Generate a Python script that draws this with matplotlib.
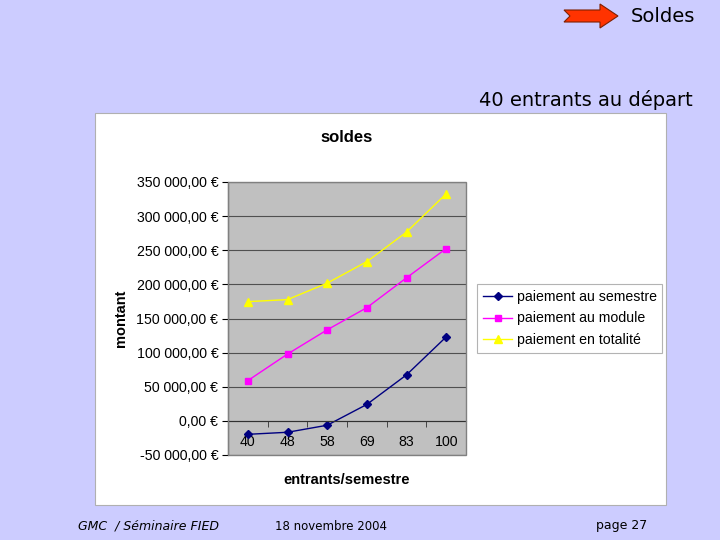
import numpy as np
import matplotlib
matplotlib.use("Agg")
import matplotlib.pyplot as plt
from matplotlib.patches import Rectangle, Polygon

# data
categories = ["40", "48", "58", "69", "83", "100"]
semestre = [-19700, -16700, -6400, 24100, 67400, 123000]
module = [59000, 97900, 133400, 165900, 209600, 252500]
totalite = [174700, 177700, 201800, 233300, 276600, 332700]
y_ticks = [-50000, 0, 50000, 100000, 150000, 200000, 250000, 300000, 350000]

W, H = 720, 540
bg = "#CCCCFF"
arial = ["Liberation Sans", "DejaVu Sans"]

fig = plt.figure(figsize=(7.2, 5.4), dpi=100, facecolor=bg)


def fx(px):
    return px / W


def fy(py):
    return 1 - py / H


# white chart area
fig.patches.append(Rectangle((fx(95), fy(505)), fx(666) - fx(95), fy(113) - fy(505),
                             transform=fig.transFigure, facecolor="white",
                             edgecolor="#B0B0B0", lw=0.8, zorder=-5))

# red arrow + slide title
arrow = [(564, 10), (600, 10), (600, 4), (618, 16), (600, 28), (600, 22), (564, 22), (570, 16)]
fig.patches.append(Polygon([(fx(a), fy(b)) for a, b in arrow], closed=True,
                           transform=fig.transFigure, facecolor="#FF3300",
                           edgecolor="#802000", lw=0.8))
fig.text(fx(631), fy(16), "Soldes", fontsize=14, va="center", ha="left")
fig.text(fx(479), fy(100), "40 entrants au départ", fontsize=14, va="center", ha="left")

# footer
fig.text(fx(78), fy(526), "GMC  / Séminaire FIED", fontsize=9, style="italic", va="center")
fig.text(fx(275), fy(526), "18 novembre 2004", fontsize=8.5, va="center")
fig.text(fx(596), fy(526), "page 27", fontsize=9, va="center")

ax = fig.add_axes([fx(228), fy(455), fx(466) - fx(228), fy(182) - fy(455)])
ax.set_facecolor("#C0C0C0")
x = np.arange(len(categories))

ax.plot(x, semestre, color="#000080", marker="D", ms=4.5, lw=1, label="paiement au semestre")
ax.plot(x, module, color="#FF00FF", marker="s", ms=5, lw=1, label="paiement au module")
ax.plot(x, totalite, color="#FFFF00", marker="^", ms=6, lw=1, label="paiement en totalité")

ax.set_xlim(-0.5, len(categories) - 0.5)
ax.set_ylim(-50000, 350000)
ax.set_yticks(y_ticks)
ax.set_yticklabels([f"{v:,.2f} €".replace(",", " ").replace(".", ",") for v in y_ticks],
                   fontsize=10.2, family=arial)
ax.yaxis.grid(True, color="#505050", lw=0.8)
ax.set_axisbelow(True)
ax.tick_params(axis="y", direction="out", length=4, color="black", pad=3)

# x axis at zero, ticks between categories
ax.spines["bottom"].set_position(("data", 0))
ax.spines["bottom"].set_color("#303030")
ax.spines["left"].set_color("black")
ax.spines["top"].set_visible(False)
ax.spines["right"].set_visible(False)
ax.set_xticks(x)
ax.set_xticklabels(categories, fontsize=10.2, family=arial)
ax.tick_params(axis="x", length=0, pad=10)
ax.set_xticks(np.arange(-0.5, len(categories)), minor=True)
ax.tick_params(axis="x", which="minor", direction="out", length=4, color="#303030")
ax.add_patch(Rectangle((0, 0), 1, 1, transform=ax.transAxes, fill=False,
                       edgecolor="#808080", lw=1, clip_on=False, zorder=5))

ax.set_ylabel("montant", fontsize=10.5, fontweight="bold", family=arial, labelpad=6)
ax.set_xlabel("entrants/semestre", fontsize=10.5, fontweight="bold", family=arial, labelpad=17.5)
ax.set_title("soldes", fontsize=12, fontweight="bold", family=arial, pad=29)

leg = ax.legend(loc="upper left", bbox_to_anchor=(fx(477), fy(284)),
                bbox_transform=fig.transFigure, borderaxespad=0, fancybox=False,
                edgecolor="#A0A0A0", prop={"family": arial, "size": 10.2},
                handlelength=2.1, handletextpad=0.3, labelspacing=0.55)
leg.get_frame().set_linewidth(0.8)

fig.savefig("out.png", dpi=100, facecolor=bg)
